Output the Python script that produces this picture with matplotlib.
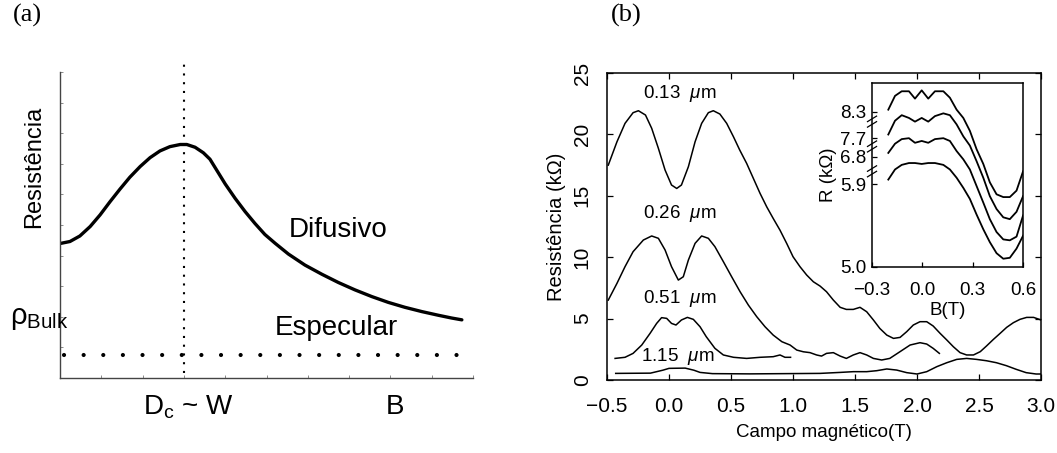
import matplotlib
matplotlib.use("Agg")
import matplotlib.pyplot as plt
from matplotlib.transforms import blended_transform_factory

plt.rcParams['font.family'] = ['Liberation Sans', 'DejaVu Sans']
plt.rcParams['mathtext.fontset'] = 'custom'
plt.rcParams['mathtext.rm'] = 'Liberation Sans'
plt.rcParams['mathtext.it'] = 'Liberation Sans:italic'

# ---- panel (a): schematic, arbitrary units 0..10
a_x = [0.02, 0.24, 0.48, 0.73, 0.97, 1.21, 1.45, 1.69, 1.94, 2.18, 2.42, 2.66,
       2.91, 3.07, 3.27, 3.47, 3.63, 3.79, 4.00, 4.24, 4.48, 4.72, 4.96, 5.21,
       5.53, 5.93, 6.34, 6.74, 7.14, 7.55, 7.95, 8.35, 8.76, 9.16, 9.48, 9.73]
a_y = [4.40, 4.46, 4.64, 4.95, 5.33, 5.76, 6.17, 6.56, 6.91, 7.20, 7.42, 7.56,
       7.63, 7.63, 7.54, 7.36, 7.15, 6.80, 6.34, 5.87, 5.44, 5.05, 4.69, 4.40,
       4.05, 3.69, 3.39, 3.12, 2.88, 2.66, 2.47, 2.31, 2.17, 2.05, 1.96, 1.90]
a_peak_x = 3.0
a_specular_y = 0.75

# ---- panel (b): R (kOhm) vs B (T)
x013 = [-0.49, -0.42, -0.355, -0.29, -0.247, -0.19, -0.14, -0.086, -0.032, 0.02,
        0.062, 0.10, 0.156, 0.21, 0.263, 0.317, 0.357, 0.41, 0.465, 0.52, 0.57,
        0.626, 0.68, 0.734, 0.788, 0.84, 0.895, 0.95, 1.00, 1.056, 1.11, 1.164,
        1.218, 1.27, 1.325, 1.38, 1.43, 1.486, 1.54, 1.594, 1.648, 1.70, 1.756,
        1.81, 1.863, 1.917, 1.97, 2.024, 2.078, 2.13, 2.186, 2.24, 2.293, 2.347,
        2.40, 2.455, 2.51, 2.56, 2.616, 2.67, 2.723, 2.777, 2.83, 2.884, 2.94, 3.0]
y013 = [17.5, 19.4, 20.9, 21.77, 21.93, 21.58, 20.5, 18.87, 17.1, 15.88,
        15.6, 15.88, 17.37, 19.4, 20.9, 21.77, 21.93, 21.66, 20.9, 19.8, 18.73,
        17.64, 16.42, 15.2, 14.1, 13.16, 12.2, 11.1, 10.04, 9.23, 8.55, 8.0,
        7.65, 7.19, 6.51, 5.92, 5.75, 5.75, 5.92, 5.56, 4.89, 4.2, 3.66,
        3.39, 3.47, 3.94, 4.48, 4.75, 4.75, 4.4, 3.8, 3.26, 2.71, 2.23,
        2.04, 2.04, 2.31, 2.77, 3.31, 3.8, 4.29, 4.67, 4.94, 5.1, 5.1, 4.89]

x026 = [-0.49, -0.42, -0.355, -0.29, -0.207, -0.14, -0.086, -0.032, 0.02, 0.075,
        0.115, 0.156, 0.21, 0.263, 0.317, 0.37, 0.438, 0.505, 0.573, 0.64, 0.707,
        0.774, 0.84, 0.91, 0.976, 1.03, 1.083, 1.137, 1.19, 1.23, 1.27, 1.325,
        1.38, 1.43, 1.486, 1.54, 1.594, 1.648, 1.715, 1.78, 1.863, 1.944, 2.024,
        2.078, 2.13, 2.18]
y026 = [6.51, 7.87, 9.23, 10.45, 11.4, 11.73, 11.54, 10.59, 9.23, 8.14,
        8.41, 9.77, 11.13, 11.73, 11.54, 10.86, 9.64, 8.41, 7.19, 6.1, 5.16,
        4.34, 3.66, 3.12, 2.85, 2.44, 2.3, 2.23, 2.04, 1.95, 2.17, 2.23,
        1.95, 1.76, 2.04, 2.23, 2.04, 1.76, 1.63, 1.76, 2.31, 2.85, 3.04,
        2.93, 2.58, 2.17]

x051 = [-0.435, -0.355, -0.29, -0.22, -0.153, -0.10, -0.06, -0.019, 0.02, 0.056,
        0.10, 0.148, 0.196, 0.25, 0.30, 0.37, 0.438, 0.52, 0.626, 0.734, 0.84,
        0.895, 0.935, 0.98]
y051 = [1.76, 1.85, 2.17, 2.85, 3.8, 4.61, 5.08, 5.02, 4.61, 4.48,
        4.89, 5.1, 4.94, 4.34, 3.53, 2.58, 2.04, 1.85, 1.76, 1.85, 1.9,
        2.04, 1.85, 1.85]

x115 = [-0.43, -0.15, -0.05, 0.00, 0.13, 0.20, 0.25, 0.35, 0.65, 1.218, 1.38,
        1.486, 1.594, 1.675, 1.756, 1.836, 1.917, 2.0, 2.078, 2.16, 2.24, 2.32,
        2.40, 2.48, 2.56, 2.64, 2.72, 2.80, 2.88, 2.96, 3.0]
y115 = [0.54, 0.56, 0.80, 0.95, 0.97, 0.80, 0.62, 0.52, 0.50, 0.54, 0.62,
        0.68, 0.68, 0.76, 0.90, 0.81, 0.60, 0.49, 0.68, 1.09, 1.41, 1.68,
        1.76, 1.68, 1.57, 1.41, 1.17, 0.87, 0.60, 0.49, 0.49]

curve_labels = ['0.13  $\\mu$m', '0.26  $\\mu$m', '0.51  $\\mu$m', '1.15  $\\mu$m']
label_x = [-0.21, -0.21, -0.21, -0.23]
label_y = [23.3, 13.6, 6.6, 1.9]

# ---- inset: curves in plotting units (broken axis, offsets applied)
ix = [-0.203, -0.163, -0.123, -0.080, -0.044, -0.004, 0.035, 0.075, 0.125, 0.164,
      0.204, 0.244, 0.283, 0.323, 0.363, 0.402, 0.442, 0.482, 0.521, 0.561, 0.600]
iy1 = [6.71, 6.86, 6.91, 6.91, 6.83, 6.92, 6.83, 6.91, 6.91, 6.84,
       6.71, 6.62, 6.48, 6.28, 6.12, 5.92, 5.79, 5.76, 5.76, 5.83, 6.04]
iy2 = [6.44, 6.59, 6.65, 6.62, 6.58, 6.62, 6.58, 6.64, 6.67, 6.65,
       6.55, 6.42, 6.32, 6.15, 5.97, 5.77, 5.63, 5.54, 5.52, 5.60, 5.77]
iy3 = [6.24, 6.34, 6.39, 6.40, 6.35, 6.37, 6.35, 6.39, 6.40, 6.37,
       6.26, 6.17, 6.06, 5.88, 5.70, 5.52, 5.38, 5.30, 5.29, 5.33, 5.56]
iy4 = [5.95, 6.06, 6.11, 6.13, 6.13, 6.12, 6.13, 6.13, 6.11, 6.06,
       5.97, 5.86, 5.74, 5.57, 5.41, 5.27, 5.15, 5.09, 5.10, 5.20, 5.34]
inset_tick_pos = [5.0, 5.9, 6.20, 6.40, 6.69]
inset_tick_lab = ['5.0', '5.9', '6.8', '7.7', '8.3']
inset_breaks = [6.04, 6.31, 6.58]

fig = plt.figure(figsize=(10.57, 4.53), dpi=100)

# ================= panel (a)
ax = fig.add_axes([0.0568, 0.1656, 0.3907, 0.6755])
ax.plot(a_x, a_y, color='black', lw=2.4, solid_capstyle='round',
        solid_joinstyle='round')
ax.plot([a_peak_x, a_peak_x], [0.15, 10.34], color='black', lw=1.5,
        linestyle=(0, (1, 3.2)), clip_on=False)
ax.plot([0.1, 9.9], [a_specular_y, a_specular_y], color='black', lw=3.0,
        linestyle=(0, (0.01, 4.7)), dash_capstyle='round')
ax.set_xlim(0, 10)
ax.set_ylim(0, 10)
ax.set_xticks(range(11))
ax.set_yticks(range(11))
ax.set_xticklabels([])
ax.set_yticklabels([])
ax.tick_params(direction='in', length=2.5, width=0.6, color='#777777')
for s in ['top', 'right']:
    ax.spines[s].set_visible(False)
for s in ['left', 'bottom']:
    ax.spines[s].set_color('#444444')
    ax.spines[s].set_linewidth(1.0)
ax.text(5.55, 4.84, 'Difusivo', fontsize=20, va='center', ha='left')
ax.text(5.2, 1.62, 'Especular', fontsize=20, va='center', ha='left')
ax.text(-0.62, 6.9, 'Resistência', fontsize=17, rotation=90, va='center', ha='center')
ax.text(-1.21, 1.95, '$\\mathrm{\\rho_{Bulk}}$', fontsize=21, va='center', ha='left')
ax.text(3.1, -0.95, 'D$_\\mathrm{c}$ ~ W', fontsize=20, va='center', ha='center')
ax.text(8.11, -0.95, 'B', fontsize=20, va='center', ha='center')
fig.text(0.0125, 0.966, '(a)', fontsize=19, family='Liberation Serif', va='center', ha='left')
fig.text(0.578, 0.966, '(b)', fontsize=19, family='Liberation Serif', va='center', ha='left')

# ================= panel (b)
bx = fig.add_axes([0.5743, 0.1611, 0.4106, 0.6777])
for xs, ys in [(x013, y013), (x026, y026), (x051, y051), (x115, y115)]:
    bx.plot(xs, ys, color='black', lw=1.1, solid_joinstyle='round')
for lab, lx, ly in zip(curve_labels, label_x, label_y):
    bx.text(lx, ly, lab, fontsize=13.5, va='center', ha='left')
bx.set_xlim(-0.5, 3.0)
bx.set_ylim(0, 25)
bx.set_xticks([-0.5, 0.0, 0.5, 1.0, 1.5, 2.0, 2.5, 3.0])
bx.set_xticklabels(['−0.5', '0.0', '0.5', '1.0', '1.5', '2.0', '2.5', '3.0'])
bx.set_yticks([0, 5, 10, 15, 20, 25])
bx.tick_params(direction='in', length=4.5, width=0.9, top=True, right=True,
               labelsize=15)
bx.tick_params(axis='x', pad=12)
bx.tick_params(axis='y', pad=11, labelrotation=90)
for lbl in bx.get_yticklabels():
    lbl.set_va('center')
for s in bx.spines.values():
    s.set_linewidth(1.1)
bx.set_xlabel('Campo magnético(T)', fontsize=13.5, labelpad=6)
bx.set_ylabel('Resistência (kΩ)', fontsize=14.5, labelpad=5)

# ================= inset
ins = fig.add_axes([0.825, 0.4106, 0.1429, 0.4062])
for ys in [iy1, iy2, iy3, iy4]:
    ins.plot(ix, ys, color='black', lw=1.3, solid_joinstyle='round')
ins.set_xlim(-0.3, 0.6)
ins.set_ylim(5.0, 7.0)
ins.set_xticks([-0.3, 0.0, 0.3, 0.6])
ins.set_xticklabels(['−0.3', '0.0', '0.3', '0.6'])
ins.set_yticks(inset_tick_pos)
ins.set_yticklabels(inset_tick_lab)
ins.tick_params(direction='in', length=3.5, width=0.9, labelsize=13.5)
ins.tick_params(axis='x', pad=11)
ins.tick_params(axis='y', pad=4)
for s in ins.spines.values():
    s.set_linewidth(1.1)
trans = blended_transform_factory(ins.transAxes, ins.transData)
for yb in inset_breaks:
    for dy in (-0.03, 0.03):
        ins.plot([-0.03, 0.03], [yb + dy - 0.03, yb + dy + 0.03], color='black',
                 lw=0.9, transform=trans, clip_on=False)
ins.set_xlabel('B(T)', fontsize=13.5, labelpad=2)
ins.set_ylabel('R (kΩ)', fontsize=13.5, labelpad=2)

fig.savefig('out.png', dpi=100)
